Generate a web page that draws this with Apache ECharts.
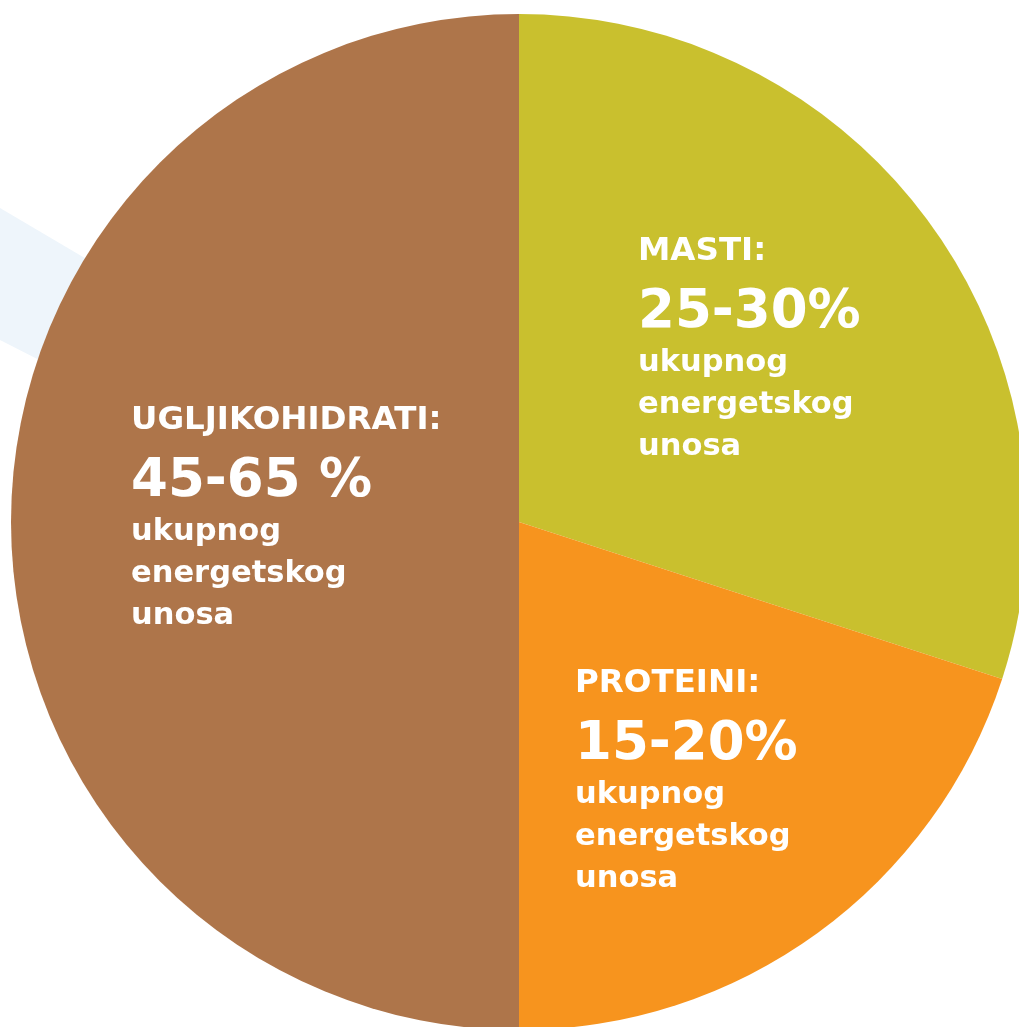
<!DOCTYPE html>
<html>
<head>
<meta charset="utf-8">
<script src="https://cdn.jsdelivr.net/npm/echarts@6/dist/echarts.min.js"></script>
<style>
html,body{margin:0;padding:0;background:#ffffff;}
#chart{width:1019px;height:1027px;}
</style>
</head>
<body>
<div id="chart"></div>
<script>
// Data
var categories = ['MASTI:', 'PROTEINI:', 'UGLJIKOHIDRATI:'];
var values = [30, 20, 50];
var ranges = ['25-30%', '15-20%', '45-65 %'];
var subLines = ['ukupnog', 'energetskog', 'unosa'];

// Styling / layout (not data)
var colors = ['#C9C02E', '#F7941E', '#AE754A'];
var labelPos = [[638, 220], [575, 652], [131, 389]];

var chart = echarts.init(document.getElementById('chart'), null, {renderer: 'canvas'});
var FONT = '"DejaVu Sans", sans-serif';

var option = {
  animation: false,
  backgroundColor: '#ffffff',
  graphic: [{
    type: 'polygon',
    z: -10,
    shape: {points: [[0, 208], [300, 385], [300, 493], [0, 340]]},
    style: {fill: '#EEF5FB'}
  }],
  series: [{
    type: 'pie',
    center: [519, 522],
    radius: [0, 508],
    startAngle: 90,
    clockwise: true,
    silent: true,
    emphasis: {disabled: true},
    labelLine: {show: false},
    label: {
      show: true,
      position: 'inside',
      align: 'left',
      verticalAlign: 'top',
      color: '#ffffff',
      fontFamily: FONT,
      fontWeight: 'bold',
      formatter: function (p) {
        var s = '{t|' + categories[p.dataIndex] + '}\n{v|' + ranges[p.dataIndex] + '}';
        subLines.forEach(function (l) { s += '\n{s|' + l + '}'; });
        return s;
      },
      rich: {
        t: {fontSize: 32.5, lineHeight: 64, fontWeight: 'bold', fontFamily: FONT, color: '#fff'},
        v: {fontSize: 53, lineHeight: 58, fontWeight: 'bold', fontFamily: FONT, color: '#fff'},
        s: {fontSize: 30.5, lineHeight: 42, fontWeight: 'bold', fontFamily: FONT, color: '#fff'}
      }
    },
    labelLayout: function (params) {
      var pos = labelPos[params.dataIndex];
      return {x: pos[0], y: pos[1], align: 'left', verticalAlign: 'top'};
    },
    data: categories.map(function (c, i) {
      return {name: c, value: values[i], itemStyle: {color: colors[i]}};
    })
  }]
};
chart.setOption(option);
</script>
</body>
</html>
